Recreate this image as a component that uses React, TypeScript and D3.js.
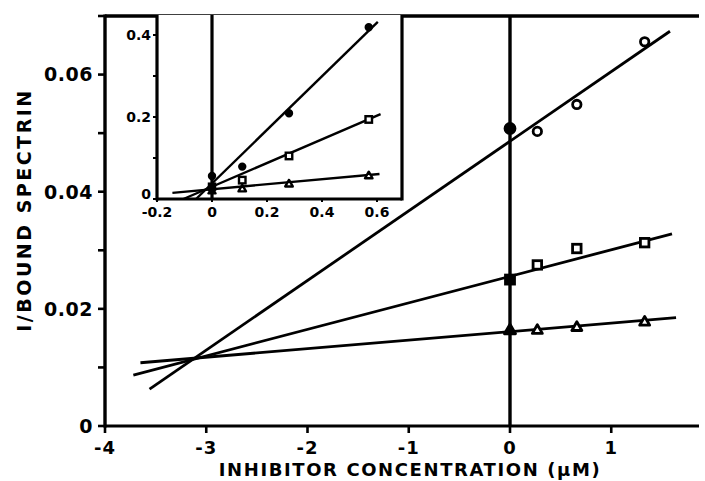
import React from "react";
import * as d3 from "d3";

// Main plot data (inhibitor concentration, µM)
const inhibitorX = [0.27, 0.66, 1.33];
const circleY = [0.0503, 0.0549, 0.0656];
const squareY = [0.0275, 0.0303, 0.0313];
const triangleY = [0.0164, 0.0169, 0.0178];
const controlCircle = 0.0508;
const controlSquare = 0.025;
const controlTriangle = 0.0164;

// Fitted lines: [xStart, yStart, xEnd, yEnd]
const circleLine = [-3.56, 0.0063, 1.58, 0.0674];
const squareLine = [-3.72, 0.0087, 1.6, 0.0328];
const triangleLine = [-3.65, 0.0108, 1.64, 0.0185];

const xTicks = [-4, -3, -2, -1, 0, 1];
const xTickLabels = ["-4", "-3", "-2", "-1", "0", "1"];
const yTicks = [0, 0.02, 0.04, 0.06];
const yTickLabels = ["0", "0.02", "0.04", "0.06"];
const yMinorTicks = [0.01, 0.03, 0.05, 0.07];

// Inset data
const insetX = [0.11, 0.28, 0.57];
const insetDotY = [0.079, 0.209, 0.419];
const insetSquareY = [0.046, 0.105, 0.194];
const insetTriangleY = [0.025, 0.037, 0.057];
const insetControlDot = 0.056;
const insetControlSquare = 0.03;
const insetControlTriangle = 0.02;
const insetDotLine = [-0.058, 0, 0.603, 0.432];
const insetSquareLine = [-0.104, 0, 0.613, 0.207];
const insetTriangleLine = [-0.144, 0.015, 0.609, 0.061];
const insetXTicks = [-0.2, 0, 0.2, 0.4, 0.6];
const insetXTickLabels = ["-0.2", "0", "0.2", "0.4", "0.6"];
const insetYTicks = [0, 0.2, 0.4];
const insetYTickLabels = ["0", "0.2", "0.4"];
const insetYMinor = [0.1, 0.3];

const FONT = "'DejaVu Sans', sans-serif";

function Circle({ cx, cy, r, filled, sw = 2.8 }: any) {
  return <circle cx={cx} cy={cy} r={r} fill={filled ? "#000" : "#fff"} stroke="#000" strokeWidth={sw} />;
}
function Square({ cx, cy, s, filled, sw = 2.8 }: any) {
  return <rect x={cx - s / 2} y={cy - s / 2} width={s} height={s} fill={filled ? "#000" : "#fff"} stroke="#000" strokeWidth={sw} />;
}
function Tri({ cx, cy, s, filled, sw = 2.8 }: any) {
  const h = s * 0.87;
  const p = `${cx},${cy - h * 0.6} ${cx - s / 2},${cy + h * 0.4} ${cx + s / 2},${cy + h * 0.4}`;
  return <polygon points={p} fill={filled ? "#000" : "#fff"} stroke="#000" strokeWidth={sw} strokeLinejoin="round" />;
}

export default function App() {
  const W = 705, H = 481;
  const x = d3.scaleLinear().domain([-4, 0]).range([105, 510]);
  const y = d3.scaleLinear().domain([0, 0.07]).range([426, 16]);
  const xRight = x.invert(699);

  const xi = d3.scaleLinear().domain([-0.2, 0]).range([157, 212]);
  const yi = d3.scaleLinear().domain([0, 0.4]).range([199, 35]);
  const xiRight = xi.invert(402);
  const yiTop = yi.invert(15);

  const line = (l: number[], sx: any, sy: any, key: string, w: number) => (
    <line key={key} x1={sx(l[0])} y1={sy(l[1])} x2={sx(l[2])} y2={sy(l[3])} stroke="#000" strokeWidth={w} />
  );

  return (
    <svg width={W} height={H} style={{ position: "absolute", left: 0, top: 0, background: "#fff" }}>
      <rect width={W} height={H} fill="#fff" />
      {/* main lines */}
      {line(circleLine, x, y, "cl", 2.8)}
      {line(squareLine, x, y, "sl", 2.8)}
      {line(triangleLine, x, y, "tl", 2.8)}
      {/* vertical line at 0 */}
      <line x1={x(0)} x2={x(0)} y1={y(0)} y2={y(0.07)} stroke="#000" strokeWidth={3.4} />
      {/* axes */}
      <line x1={x(-4)} x2={x(-4)} y1={y(0) + 1.5} y2={y(0.07) - 1.5} stroke="#000" strokeWidth={3.4} />
      <line x1={x(-4)} x2={x(xRight)} y1={y(0)} y2={y(0)} stroke="#000" strokeWidth={3} />
      <line x1={x(-4)} x2={x(xRight)} y1={y(0.07)} y2={y(0.07)} stroke="#000" strokeWidth={3.4} />
      {yTicks.concat(yMinorTicks).map((t, i) => (
        <line key={"yt" + i} x1={x(-4) - 7} x2={x(-4)} y1={y(t)} y2={y(t)} stroke="#000" strokeWidth={2.6} />
      ))}
      {xTicks.map((t, i) => (
        <line key={"xt" + i} x1={x(t)} x2={x(t)} y1={y(0)} y2={y(0) + 7} stroke="#000" strokeWidth={2.6} />
      ))}
      {yTicks.map((t, i) => (
        <text key={"yl" + i} x={x(-4) - 12} y={y(t)} dy="0.36em" textAnchor="end" fontFamily={FONT} fontWeight="bold" fontSize={19} letterSpacing={0.5}>
          {yTickLabels[i]}
        </text>
      ))}
      {xTicks.map((t, i) => (
        <text key={"xl" + i} x={x(t)} y={454} textAnchor="middle" fontFamily={FONT} fontWeight="bold" fontSize={18} letterSpacing={1}>
          {xTickLabels[i]}
        </text>
      ))}
      <text x={410} y={476} textAnchor="middle" fontFamily={FONT} fontWeight="bold" fontSize={18} letterSpacing={1.6}>
        INHIBITOR CONCENTRATION (µM)
      </text>
      <text transform={`translate(31,210) rotate(-90)`} textAnchor="middle" fontFamily={FONT} fontWeight="bold" fontSize={19} letterSpacing={2.5}>
        I/BOUND SPECTRIN
      </text>
      {/* main markers */}
      {inhibitorX.map((v, i) => (
        <g key={"m" + i}>
          <Circle cx={x(v)} cy={y(circleY[i])} r={4.2} />
          <Square cx={x(v)} cy={y(squareY[i])} s={8.5} />
          <Tri cx={x(v)} cy={y(triangleY[i])} s={10} />
        </g>
      ))}
      <Circle cx={x(0)} cy={y(controlCircle)} r={5} filled />
      <Square cx={x(0)} cy={y(controlSquare)} s={9} filled />
      <Tri cx={x(0)} cy={y(controlTriangle)} s={11} filled />

      {/* inset */}
      <rect x={xi(-0.2)} y={15} width={xi(xiRight) - xi(-0.2)} height={yi(0) - 15} fill="#fff" />
      {line(insetDotLine, xi, yi, "idl", 2.4)}
      {line(insetSquareLine, xi, yi, "isl", 2.4)}
      {line(insetTriangleLine, xi, yi, "itl", 2.4)}
      <line x1={xi(0)} x2={xi(0)} y1={yi(0)} y2={yi(yiTop)} stroke="#000" strokeWidth={3.2} />
      <line x1={xi(-0.2)} x2={xi(-0.2)} y1={yi(0) + 1.5} y2={15} stroke="#000" strokeWidth={3.2} />
      <line x1={xi(xiRight)} x2={xi(xiRight)} y1={yi(0) + 1.5} y2={15} stroke="#000" strokeWidth={3.2} />
      <line x1={xi(-0.2)} x2={xi(xiRight)} y1={yi(0)} y2={yi(0)} stroke="#000" strokeWidth={3.2} />
      {insetYTicks.concat(insetYMinor).map((t, i) => (
        <line key={"iyt" + i} x1={xi(-0.2) - 4} x2={xi(-0.2)} y1={yi(t)} y2={yi(t)} stroke="#000" strokeWidth={2} />
      ))}
      {insetXTicks.map((t, i) => (
        <line key={"ixt" + i} x1={xi(t)} x2={xi(t)} y1={yi(0)} y2={yi(0) + 3} stroke="#000" strokeWidth={2} />
      ))}
      {insetYTicks.map((t, i) => (
        <text key={"iyl" + i} x={xi(-0.2) - 6} y={yi(t) - (t === 0 ? 5 : 0)} dy="0.36em" textAnchor="end" fontFamily={FONT} fontWeight="bold" fontSize={14}>
          {insetYTickLabels[i]}
        </text>
      ))}
      {insetXTicks.map((t, i) => (
        <text key={"ixl" + i} x={xi(t)} y={217} textAnchor="middle" fontFamily={FONT} fontWeight="bold" fontSize={14}>
          {insetXTickLabels[i]}
        </text>
      ))}
      {insetX.map((v, i) => (
        <g key={"im" + i}>
          <Circle cx={xi(v)} cy={yi(insetDotY[i])} r={3.2} filled sw={2} />
          <Square cx={xi(v)} cy={yi(insetSquareY[i])} s={6.5} sw={2.4} />
          <Tri cx={xi(v)} cy={yi(insetTriangleY[i])} s={7.5} sw={2.4} />
        </g>
      ))}
      <Circle cx={xi(0)} cy={yi(insetControlDot)} r={3.2} filled sw={2} />
      <Square cx={xi(0)} cy={yi(insetControlSquare)} s={6.5} filled sw={2} />
      <Tri cx={xi(0)} cy={yi(insetControlTriangle)} s={7.5} filled sw={2} />
    </svg>
  );
}
